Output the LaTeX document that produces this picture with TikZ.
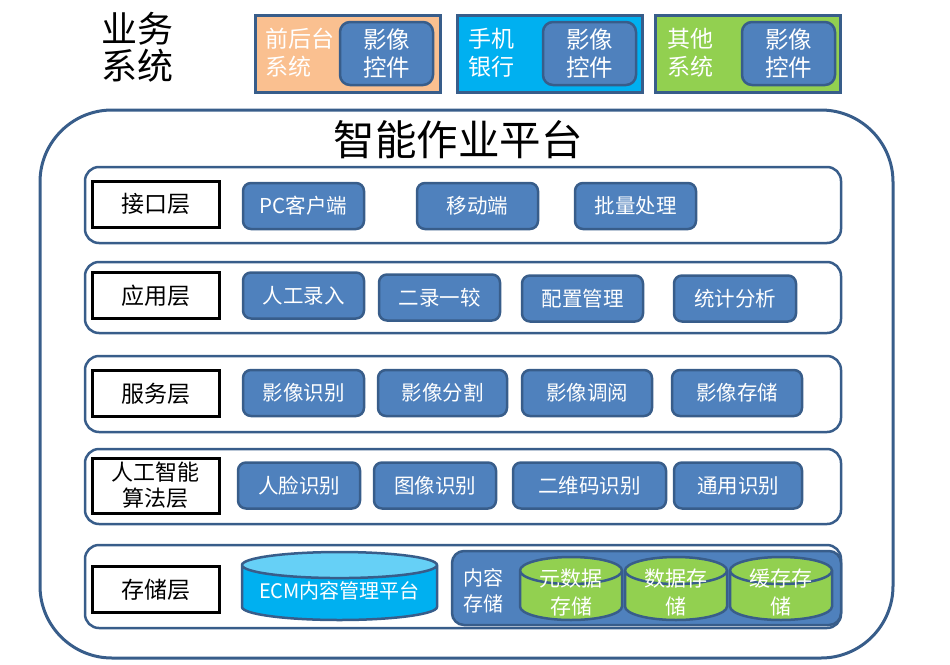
\documentclass[tikz,border=0pt]{standalone}
\usepackage{fontspec}
\setmainfont{Noto Sans CJK SC}
\usetikzlibrary{shapes.geometric}
\definecolor{bord}{HTML}{385D8A}
\definecolor{itemfill}{HTML}{4F81BD}
\definecolor{peach}{HTML}{FAC090}
\definecolor{cyanbox}{HTML}{00B0F0}
\definecolor{cyantop}{HTML}{66D0F6}
\definecolor{greenbox}{HTML}{92D050}

\tikzset{every node/.style={inner sep=0pt}}

\begin{document}
\begin{tikzpicture}[x=1pt, y=-1pt,
	item/.style={rectangle, rounded corners=8pt, draw=bord, line width=2.5pt, fill=itemfill, text=white, font=\fontsize{20.5}{24}\selectfont, minimum width=121pt, minimum height=46pt},
	layer/.style={rectangle, draw=black, line width=3pt, fill=white, minimum width=127pt, minimum height=46pt, align=center, font=\fontsize{23}{27}\selectfont},
	band/.style={rectangle, rounded corners=14pt, draw=bord, line width=2.5pt, minimum width=756pt},
	sysbox/.style={rectangle, draw=bord, line width=3pt, minimum width=185pt, minimum height=77pt},
	ctrl/.style={rectangle, rounded corners=10pt, draw=bord, line width=2.5pt, fill=itemfill, text=white, minimum width=93pt, minimum height=63pt, align=center, font=\fontsize{23.5}{28}\selectfont},
	systext/.style={text=white, align=left, font=\fontsize{23}{28}\selectfont},
	storetext/.style={text=white, align=center, font=\fontsize{21}{28}\selectfont},
	store/.style={cylinder, shape border rotate=90, anchor=shape center, draw=bord, line width=2.5pt, cylinder uses custom fill, cylinder body fill=greenbox, cylinder end fill=greenbox, minimum width=102pt, minimum height=63pt, aspect=0.27}]
	\useasboundingbox (0,0) rectangle (950,664);
	
	% business systems
	\node[align=center, font=\fontsize{36}{37}\selectfont] (BIZ) at (137,47) {业务\\系统};
	\node[sysbox, fill=peach] (S1) at (347.5,53.5) {};
	\node[sysbox, fill=cyanbox] (S2) at (550,53.5) {};
	\node[sysbox, fill=greenbox] (S3) at (748,53.5) {};
	\node[systext] (T1) at (300,53) {前后台\\系统};
	\node[systext] (T2) at (491,53) {手机\\银行};
	\node[systext] (T3) at (690,53) {其他\\系统};
	\node[ctrl] (C1) at (386.5,53.5) {影像\\控件};
	\node[ctrl] (C2) at (589.5,53.5) {影像\\控件};
	\node[ctrl] (C3) at (788.5,53.5) {影像\\控件};
	
	% platform
	\node[rectangle, rounded corners=72pt, draw=bord, line width=3pt, minimum width=853pt, minimum height=548pt] (PF) at (466.5,384) {};
	\node[font=\fontsize{41.5}{44}\selectfont] (TITLE) at (458,140) {智能作业平台};
	
	\node[band, minimum height=76pt] (B1) at (463,205) {};
	\node[band, minimum height=71pt] (B2) at (463,297.5) {};
	\node[band, minimum height=76pt] (B3) at (463,394) {};
	\node[band, minimum height=75pt] (B4) at (463,486.5) {};
	\node[band, minimum height=83pt] (B5) at (463,586.5) {};
	
	\node[layer] (L1) at (155.5,204) {接口层};
	\node[layer] (L2) at (155.5,295.5) {应用层};
	\node[layer] (L3) at (155.5,393.5) {服务层};
	\node[layer, minimum height=55pt, font=\fontsize{22}{26}\selectfont] (L4) at (155.5,485.5) {人工智能\\算法层};
	\node[layer] (L5) at (155.5,589.5) {存储层};
	
	% interface
	\node[item] (I1) at (303.5,206) {PC客户端};
	\node[item] (I2) at (477.5,206) {移动端};
	\node[item] (I3) at (635.5,206) {批量处理};
	
	% application
	\node[item] (A1) at (303.5,295.5) {人工录入};
	\node[item] (A2) at (439.5,297.5) {二录一较};
	\node[item] (A3) at (582.5,298.5) {配置管理};
	\node[item, minimum width=122pt] (A4) at (735,298.5) {统计分析};
	
	% service
	\node[item] (V1) at (303.5,393) {影像识别};
	\node[item, minimum width=129pt] (V2) at (442.5,393) {影像分割};
	\node[item, minimum width=130pt] (V3) at (587,393) {影像调阅};
	\node[item, minimum width=130pt] (V4) at (737,393) {影像存储};
	
	% algorithms
	\node[item, minimum width=122pt] (G1) at (299,485.5) {人脸识别};
	\node[item, minimum width=122pt] (G2) at (435,485.5) {图像识别};
	\node[item, minimum width=153pt] (G3) at (589.5,485.5) {二维码识别};
	\node[item, minimum width=128pt] (G4) at (738,485.5) {通用识别};
	
	% storage
	\node[store, cylinder body fill=cyanbox, cylinder end fill=cyantop, minimum width=195pt, minimum height=68pt, aspect=0.135] (ECM) at (339.5,586) {\hspace*{193pt}};
	\node[storetext, font=\fontsize{20}{24}\selectfont, yshift=-5pt] (ECMT) at (ECM.shape center) {ECM内容管理平台};
	\node[rectangle, rounded corners=12pt, draw=bord, line width=2.5pt, fill=itemfill, minimum width=389pt, minimum height=74pt] (CS) at (646.5,588) {};
	\node[storetext, font=\fontsize{20}{26}\selectfont] (CST) at (483,591) {内容\\存储};
	\node[store] (D1) at (571,588.5) {\hspace*{100pt}};
	\node[store] (D2) at (676,588.5) {\hspace*{100pt}};
	\node[store] (D3) at (781,588.5) {\hspace*{100pt}};
	\node[storetext, yshift=-3.5pt] (D1T) at (D1.shape center) {元数据\\存储};
	\node[storetext, yshift=-3.5pt] (D2T) at (D2.shape center) {数据存\\储};
	\node[storetext, yshift=-3.5pt] (D3T) at (D3.shape center) {缓存存\\储};
\end{tikzpicture}
\end{document}
